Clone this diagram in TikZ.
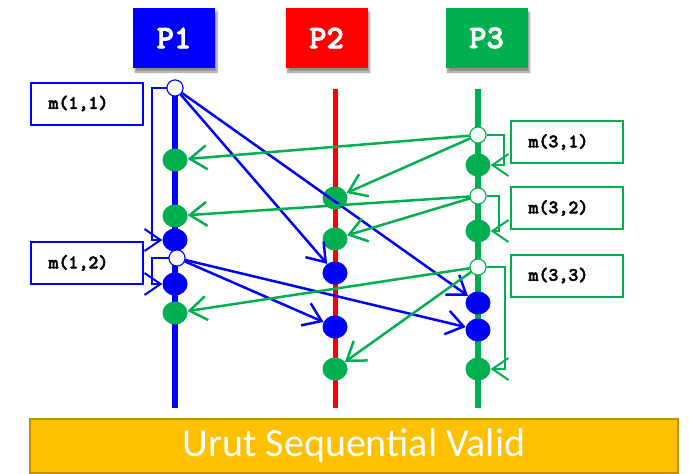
\documentclass[tikz,border=0pt]{standalone}
\usepackage{fontspec}
\setmainfont{Carlito}
\newfontfamily\codefont{lmmonolt10-bold.otf}[FakeBold=2.5]
\usetikzlibrary{shapes.geometric,arrows.meta,shadows.blur}
\definecolor{pblue}{RGB}{0,0,255}
\definecolor{pred}{RGB}{255,0,0}
\definecolor{pgreen}{RGB}{0,176,80}
\definecolor{bannerfill}{RGB}{255,192,0}
\definecolor{bannerline}{RGB}{191,144,0}

\begin{document}
\begin{tikzpicture}[x=1pt,y=-1pt,
  head/.style={minimum width=82pt, minimum height=60pt, inner sep=0pt, text=white,
    font=\codefont\fontsize{33}{34}\selectfont,
    blur shadow={shadow xshift=2pt, shadow yshift=-4pt, shadow blur steps=6, shadow opacity=45}},
  life/.style={line width=6pt},
  dot/.style={ellipse, minimum width=25pt, minimum height=23pt, inner sep=0pt},
  sendpt/.style={circle, minimum size=16pt, inner sep=0pt, fill=white, draw, line width=1pt},
  msg/.style={line width=2.5pt, -{Straight Barb[length=17pt,width=24pt]}},
  selfmsg/.style={line width=2pt, -{Straight Barb[length=16pt,width=22pt]}},
  tag/.style={draw, line width=2pt, minimum height=42pt, text width=76pt, inner xsep=18pt,
    align=left, fill=white, text=black, font=\codefont\fontsize{19}{20}\selectfont},
  banner/.style={draw=bannerline, line width=2pt, fill=bannerfill, minimum width=648pt,
    minimum height=54pt, text=white, font=\fontsize{40}{44}\selectfont}
]
\useasboundingbox (0,0) rectangle (689,474);

% process headers
\node[head, fill=pblue]  (h1) at (174,38)   {P1};
\node[head, fill=pred]   (h2) at (326.5,38) {P2};
\node[head, fill=pgreen] (h3) at (486.5,38) {P3};

% lifelines
\coordinate (t1) at (175,88);  \coordinate (e1) at (175,408);
\coordinate (t2) at (335,89);  \coordinate (e2) at (335,408);
\coordinate (t3) at (478,89);  \coordinate (e3) at (478,408);
\draw[life, pblue] (t1) -- (e1);
\draw[life, pred, line width=5pt] (t2) -- (e2);
\draw[life, pgreen] (t3) -- (e3);

% receive events on P1
\node[dot, fill=pgreen] (g1a) at (175,160) {};
\node[dot, fill=pgreen] (g1b) at (175,216) {};
\node[dot, fill=pblue]  (b1a) at (175,240) {};
\node[dot, fill=pblue]  (b1b) at (175,284) {};
\node[dot, fill=pgreen] (g1c) at (175,313) {};
% receive events on P2
\node[dot, fill=pgreen] (g2a) at (335,198) {};
\node[dot, fill=pgreen] (g2b) at (335,239) {};
\node[dot, fill=pblue]  (b2a) at (335,273) {};
\node[dot, fill=pblue]  (b2b) at (335,327) {};
\node[dot, fill=pgreen] (g2c) at (335,369) {};
% receive events on P3
\node[dot, fill=pgreen] (g3a) at (478,165) {};
\node[dot, fill=pgreen] (g3b) at (478,231) {};
\node[dot, fill=pblue]  (b3a) at (478,303) {};
\node[dot, fill=pblue]  (b3b) at (478,330) {};
\node[dot, fill=pgreen] (g3c) at (478,369) {};

% send events
\node[sendpt, draw=pblue]  (c11) at (175,88)  {};
\node[sendpt, draw=pblue]  (c12) at (177,258) {};
\node[sendpt, draw=pgreen] (c31) at (478,135) {};
\node[sendpt, draw=pgreen] (c32) at (478,196) {};
\node[sendpt, draw=pgreen] (c33) at (478,267) {};

% messages from P1
\draw[msg, pblue] (c11) -- (b2a);
\draw[msg, pblue] (c11) -- (b3a);
\draw[msg, pblue] (c12) -- (b2b);
\draw[msg, pblue] (c12) -- (b3b);
\draw[selfmsg, pblue] (c11.west) -- ++(-15,0) |- (b1a);
\draw[selfmsg, pblue] (c12.west) -- ++(-17,0) |- (b1b);

% messages from P3
\draw[msg, pgreen] (c31) -- (g1a);
\draw[msg, pgreen] (c31) -- (g2a);
\draw[msg, pgreen] (c32) -- (g1b);
\draw[msg, pgreen] (c32) -- (g2b);
\draw[msg, pgreen] (c33) -- (g1c);
\draw[msg, pgreen] (c33) -- (g2c);
\draw[selfmsg, pgreen] (c31.east) -- ++(17,0) |- (g3a);
\draw[selfmsg, pgreen] (c32.east) -- ++(12,0) |- (g3b);
\draw[selfmsg, pgreen] (c33.east) -- ++(18,0) |- (g3c);

% send events drawn over the message starts
\node[sendpt, draw=pblue]  at (c11) {};
\node[sendpt, draw=pblue]  at (c12) {};
\node[sendpt, draw=pgreen] at (c31) {};
\node[sendpt, draw=pgreen] at (c32) {};
\node[sendpt, draw=pgreen] at (c33) {};

% message labels
\node[tag, draw=pblue]  (m11) at (86.5,103.5) {m(1,1)};
\node[tag, draw=pblue]  (m12) at (86.5,263)   {m(1,2)};
\node[tag, draw=pgreen] (m31) at (566.5,142)  {m(3,1)};
\node[tag, draw=pgreen] (m32) at (566.5,208)  {m(3,2)};
\node[tag, draw=pgreen] (m33) at (566.5,275.5){m(3,3)};

% caption bar
\node[banner] (title) at (354,446) {Urut Sequential Valid};
\end{tikzpicture}
\end{document}
